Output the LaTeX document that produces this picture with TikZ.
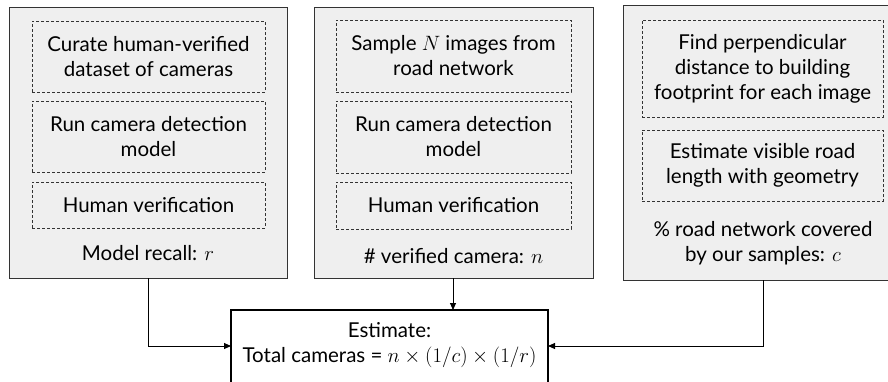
\documentclass[tikz,border=0pt]{standalone}
\usepackage{fontspec}
\setmainfont{Lato}
\usetikzlibrary{arrows.meta}
\definecolor{boxfill}{HTML}{EFEFEF}
\definecolor{edge}{HTML}{333333}
\tikzset{
  outerbox/.style={draw=edge, fill=boxfill, line width=1pt},
  dashbox/.style={draw=edge, dash pattern=on 3pt off 2pt, line width=0.8pt, align=center, inner sep=0pt, font=\fontsize{20.5}{25}\selectfont},
  lbl/.style={align=center, inner sep=0pt, font=\fontsize{20.5}{25}\selectfont},
  estbox/.style={draw=black, fill=white, line width=2pt},
  conn/.style={draw=black, line width=0.9pt, -{Triangle[length=7pt,width=6pt]}},
}
\begin{document}
\begin{tikzpicture}[x=1pt,y=-1pt]
\useasboundingbox (0,0) rectangle (888,381);
% outer boxes
\draw[outerbox] (9,7) rectangle (287,278);
\draw[outerbox] (314,7) rectangle (593,278);
\draw[outerbox] (623,5) rectangle (895,280);
\coordinate (L) at (148,278);
\coordinate (M) at (453,278);
\coordinate (R) at (763,280);
% left column
\node[dashbox, minimum width=233pt, minimum height=71pt] (l1) at (148.5,56.5) {Curate human-verified\\dataset of cameras};
\node[dashbox, minimum width=233pt, minimum height=71pt] (l2) at (148.5,136.5) {Run camera detection\\model};
\node[dashbox, minimum width=233pt, minimum height=46pt] (l3) at (148.5,205) {Human verification};
\node[lbl] (lt) at (148,253) {Model recall: $r$};
% middle column
\node[dashbox, minimum width=235pt, minimum height=72pt] (m1) at (453.5,56) {Sample $N$ images from\\road network};
\node[dashbox, minimum width=235pt, minimum height=72pt] (m2) at (453.5,137) {Run camera detection\\model};
\node[dashbox, minimum width=235pt, minimum height=47pt] (m3) at (453.5,205.5) {Human verification};
\node[lbl] (mt) at (453.5,256) {\# verified camera: $n$};
% right column
\node[dashbox, minimum width=241pt, minimum height=97pt] (r1) at (762.5,68.5) {Find perpendicular\\distance to building\\footprint for each image};
\node[dashbox, minimum width=241pt, minimum height=71pt] (r2) at (762.5,165.5) {Estimate visible road\\length with geometry};
\node[lbl] (rt) at (763,243.5) {\% road network covered\\by our samples: $c$};
% estimate box
\draw[estbox] (231,310) rectangle (548,386);
\node[lbl] (est) at (389.5,345.5) {Estimate:\\Total cameras = $n\times(1/c)\times(1/r)$};
\coordinate (EL) at (231,346);
\coordinate (ER) at (548,346);
\coordinate (ET) at (453,310);
% connectors
\draw[conn] (L) |- (EL);
\draw[conn] (M) -- (ET);
\draw[conn] (R) |- (ER);
\end{tikzpicture}
\end{document}
